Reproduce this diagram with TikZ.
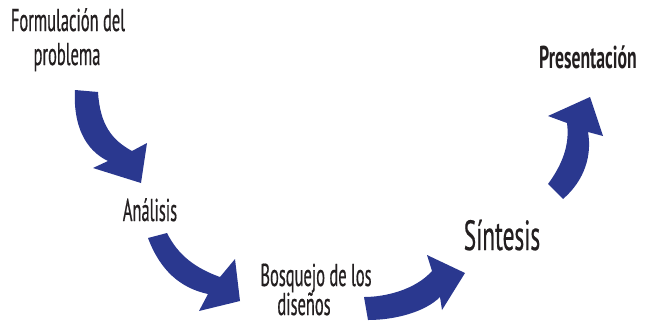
\documentclass[tikz,border=0pt]{standalone}
\usepackage{fontspec}
\setmainfont{PT Sans}
\newfontfamily\condf[FakeStretch=0.52,FakeBold=0.5]{PT Sans}
\newfontfamily\condbig[FakeStretch=0.55,FakeBold=0.5]{PT Sans}
\newfontfamily\condb[FakeStretch=0.56]{PT Sans}
\definecolor{arrowblue}{RGB}{42,56,143}
\definecolor{txtgray}{RGB}{35,31,32}
\tikzset{
  blockarrow/.style={fill=arrowblue, draw=none},
  lbl/.style={anchor=base, inner sep=0pt, text=txtgray, font=\condf\fontsize{27}{30}\selectfont},
  biglbl/.style={lbl, font=\condbig\fontsize{36}{40}\selectfont},
  boldlbl/.style={lbl, font=\condb\fontsize{27}{30}\selectfont\bfseries}
}
\begin{document}
\begin{tikzpicture}[x=0.03cm, y=-0.03cm]
\path[use as bounding box] (0,0) rectangle (650,322);
% labels
\node[lbl] (form1) at (68,31) {Formulación del};
\node[lbl] (form2) at (67,65) {problema};
\node[lbl] (anal) at (150,221) {Análisis};
\node[lbl] (bosq1) at (316,286) {Bosquejo de los};
\node[lbl] (bosq2) at (304,315) {diseños};
\node[biglbl] (sint) at (502,250) {Síntesis};
\node[boldlbl] (pres) at (588,68) {Presentación};
% arrows
\fill[blockarrow] (75,90) .. controls (73,125) and (85,150) .. (108,161) -- (93,168) -- (141,183) -- (147,143) -- (132,151) .. controls (112,140) and (100,125) .. (98,92) -- cycle;
\fill[blockarrow] (148,238) .. controls (160,270) and (180,288) .. (208,294) -- (199,311) -- (240,301) -- (235,259) -- (220,277) .. controls (195,268) and (178,255) .. (167,233) -- cycle;
\fill[blockarrow] (364,297) .. controls (385,297) and (415,290) .. (432,271) -- (427,255) -- (465,273) -- (442,310) -- (440,297) .. controls (425,312) and (395,320) .. (368,320) -- cycle;
\fill[blockarrow] (548,184) .. controls (562,165) and (570,145) .. (567,123) -- (548,116) -- (590,97) -- (603,136) -- (588,132) .. controls (592,155) and (585,180) .. (563,199) -- cycle;
\end{tikzpicture}
\end{document}
